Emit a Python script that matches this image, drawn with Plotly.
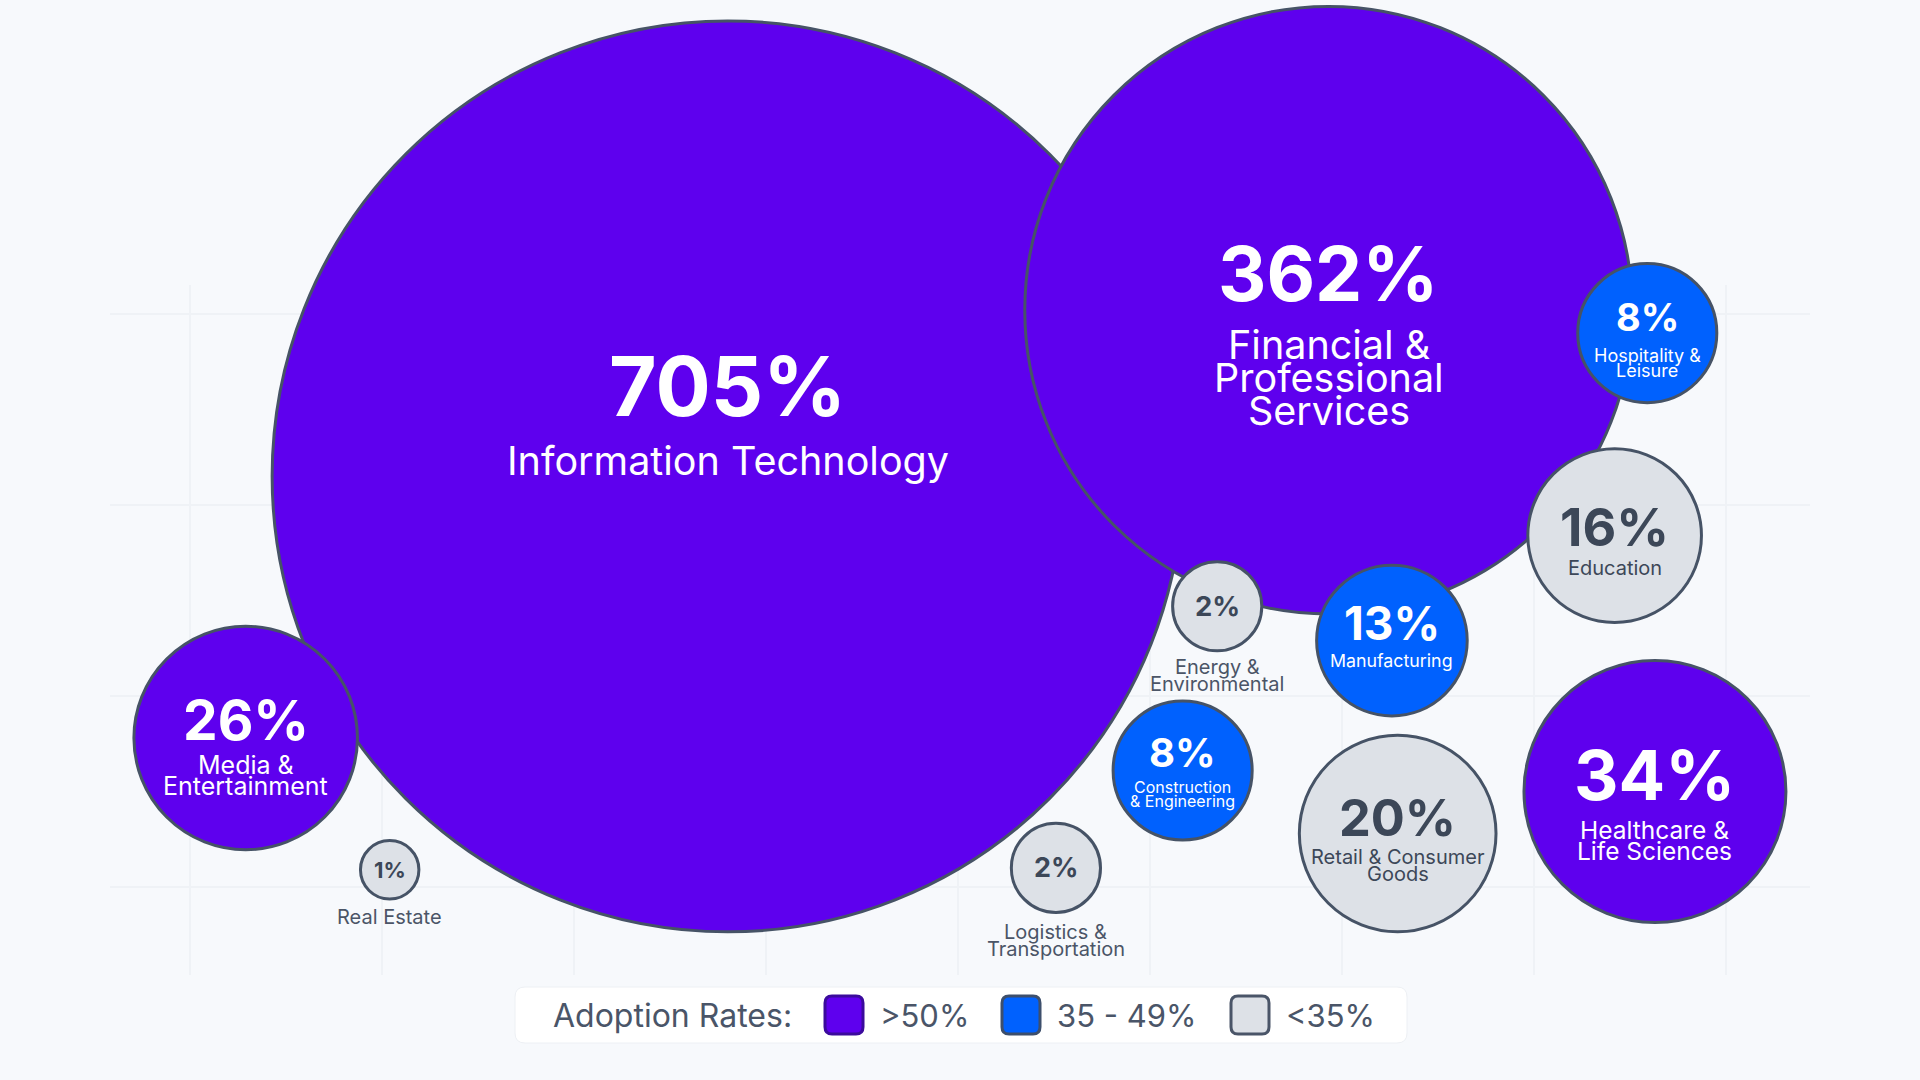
"""
Bubble chart - sector growth vs adoption rate tier
"""
import plotly.graph_objects as go

# ── data ────────────────────────────────────────────────────────────────
sectors = [
    "Information Technology", "Financial & Professional Services",
    "Healthcare & Life Sciences", "Media & Entertainment",
    "Hospitality & Leisure", "Manufacturing", "Construction & Engineering",
    "Education", "Retail & Consumer Goods", "Energy & Environmental",
    "Logistics & Transportation", "Real Estate",
]
labels = [
    "Information Technology", "Financial &\nProfessional\nServices",
    "Healthcare &\nLife Sciences", "Media &\nEntertainment",
    "Hospitality &\nLeisure", "Manufacturing", "Construction\n& Engineering",
    "Education", "Retail & Consumer\nGoods", "Energy &\nEnvironmental",
    "Logistics &\nTransportation", "Real Estate",
]
growth = [705, 362, 34, 26, 8, 13, 8, 16, 20, 2, 2, 1]
tier = [">50%", ">50%", ">50%", ">50%", "35 - 49%", "35 - 49%", "35 - 49%",
        "<35%", "<35%", "<35%", "<35%", "<35%"]
pos_x = [2.80, 5.93, 7.63, 0.29, 7.59, 6.26, 5.17, 7.42, 6.29, 5.35, 4.51, 1.04]
pos_y = [2.15, 3.02, 0.50, 0.78, 2.90, 1.29, 0.61, 1.84, 0.28, 1.47, 0.10, 0.09]
bubble_r = [2.38, 1.59, 0.69, 0.59, 0.37, 0.40, 0.37, 0.46, 0.52, 0.24, 0.24, 0.16]

tiers = [">50%", "35 - 49%", "<35%"]

# ── styles ──────────────────────────────────────────────────────────────
PX = 192  # pixels per grid unit
FONT = "Inter"
fill = {">50%": "#5e00ee", "35 - 49%": "#0061fe", "<35%": "#dde1e7"}
swatch_line = {">50%": "#3b0b9c", "35 - 49%": "#3d4f6c", "<35%": "#4a5568"}
txt_col = {">50%": "white", "35 - 49%": "white", "<35%": "#3c4758"}
OUTLINE = "#465366"
OUT_LABEL = "#4b5567"

# value size, value dy, label size, first label dy, line gap, label outside
text_style = {
    "Information Technology": (82, -90, 39.5, -15, 0, False),
    "Financial & Professional Services": (75, -37, 39.5, 35, 33, False),
    "Healthcare & Life Sciences": (69, -17, 24.5, 38, 21, False),
    "Media & Entertainment": (55, -18, 25, 27, 21, False),
    "Hospitality & Leisure": (38, -16, 18, 22, 15, False),
    "Manufacturing": (46, -18, 17.8, 20, 0, False),
    "Construction & Engineering": (40, -18, 16, 17, 14, False),
    "Education": (52, -8, 20, 32, 0, False),
    "Retail & Consumer Goods": (50.5, -16, 20, 23, 17, False),
    "Energy & Environmental": (27.5, 0, 20, 61, 17, True),
    "Logistics & Transportation": (27, 0, 20, 64, 17, True),
    "Real Estate": (22, 0, 20, 47, 17, True),
}

fig = go.Figure()

# one trace per tier, purple first so the smaller ones sit on top
for t in tiers:
    idx = [i for i in range(len(sectors)) if tier[i] == t]
    fig.add_trace(go.Scatter(
        x=[pos_x[i] for i in idx], y=[pos_y[i] for i in idx],
        mode="markers", name=t, showlegend=False, cliponaxis=False,
        hovertext=[sectors[i] for i in idx], hoverinfo="text",
        marker=dict(size=[2 * bubble_r[i] * PX - 3 for i in idx],
                    color=fill[t], opacity=1,
                    line=dict(color=OUTLINE, width=3)),
    ))

annotations = []
for i, s in enumerate(sectors):
    vsize, vdy, lsize, ldy, gap, outside = text_style[s]
    col = txt_col[tier[i]]
    annotations.append(dict(
        x=pos_x[i], y=pos_y[i], xref="x", yref="y", text=f"{growth[i]}%",
        showarrow=False, yshift=-vdy, xanchor="center", yanchor="middle",
        font=dict(family=FONT, size=vsize, color=col, weight=700),
    ))
    for j, line in enumerate(labels[i].split("\n")):
        annotations.append(dict(
            x=pos_x[i], y=pos_y[i], xref="x", yref="y", text=line,
            showarrow=False, yshift=-(ldy + j * gap), xanchor="center",
            yanchor="middle",
            font=dict(family=FONT, size=lsize,
                      color=OUT_LABEL if outside else col),
        ))

# ── custom legend box ───────────────────────────────────────────────────
W, H = 1920, 1080


def rrect(x0, y0, x1, y1, r):
    # rounded rect in paper coords, input in pixels
    px = lambda v: v / W
    py = lambda v: 1 - v / H
    return (f"M {px(x0 + r)},{py(y0)} L {px(x1 - r)},{py(y0)} "
            f"Q {px(x1)},{py(y0)} {px(x1)},{py(y0 + r)} "
            f"L {px(x1)},{py(y1 - r)} Q {px(x1)},{py(y1)} {px(x1 - r)},{py(y1)} "
            f"L {px(x0 + r)},{py(y1)} Q {px(x0)},{py(y1)} {px(x0)},{py(y1 - r)} "
            f"L {px(x0)},{py(y0 + r)} Q {px(x0)},{py(y0)} {px(x0 + r)},{py(y0)} Z")


shapes = [dict(type="path", xref="paper", yref="paper",
               path=rrect(515, 987, 1407, 1043, 10),
               fillcolor="white", line=dict(color="#edf0f4", width=1))]
annotations.append(dict(
    x=551 / W, y=1 - 1015 / H, xref="paper", yref="paper",
    text="Adoption Rates:", showarrow=False, xanchor="left", yanchor="middle",
    font=dict(family=FONT, size=32, color="#4a5568"),
))
sw_x = [825, 1002, 1231]
for t, sx in zip(tiers, sw_x):
    shapes.append(dict(type="path", xref="paper", yref="paper",
                       path=rrect(sx, 996, sx + 38, 1034, 7),
                       fillcolor=fill[t], line=dict(color=swatch_line[t], width=3)))
    annotations.append(dict(
        x=(sx + 53) / W, y=1 - 1015 / H, xref="paper", yref="paper",
        text=t.replace("<", "&lt;").replace(">", "&gt;"), showarrow=False,
        xanchor="left", yanchor="middle",
        font=dict(family=FONT, size=31, color="#4a5568"),
    ))

GRID = "#eff2f6"
fig.update_layout(
    width=W, height=H,
    margin=dict(l=0, r=0, t=0, b=0),
    paper_bgcolor="#f7f9fc", plot_bgcolor="#f7f9fc",
    xaxis=dict(domain=[110 / W, 1810 / W],
               range=[(110 - 190) / PX, (1810 - 190) / PX],
               tickvals=list(range(9)), showticklabels=False,
               showgrid=True, gridcolor=GRID, gridwidth=2,
               zeroline=False, showline=False, fixedrange=True),
    yaxis=dict(domain=[1 - 975 / H, 1 - 285 / H],
               range=[(887 - 975) / 191, (887 - 285) / 191],
               tickvals=list(range(4)), showticklabels=False,
               showgrid=True, gridcolor=GRID, gridwidth=2,
               zeroline=False, showline=False, fixedrange=True),
    shapes=shapes,
    annotations=annotations,
    showlegend=False,
    hovermode="closest",
)

# drop the default page margin so the figure sits at the window's corner
fig.write_html("out.html",
               config={"displayModeBar": False},
               post_script="document.body.style.margin='0';"
                           "document.body.style.overflow='hidden';")
print("out.html written")
